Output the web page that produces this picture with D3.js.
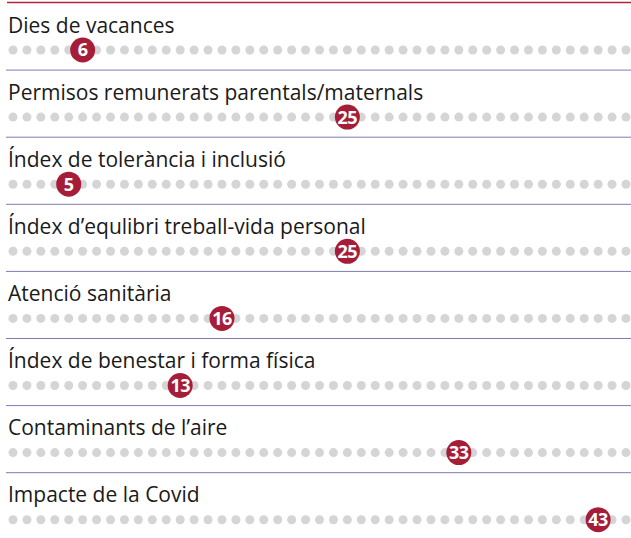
<!DOCTYPE html>
<html>
<head>
<meta charset="utf-8">
<script src="https://cdn.jsdelivr.net/npm/d3@7"></script>
<style>
  body { margin: 0; background: #fff; }
  text { font-family: "Open Sans", "Noto Sans", sans-serif; }
</style>
</head>
<body>
<script>
// labels and rank (position among 45 cities)
var categories = [
  "Dies de vacances",
  "Permisos remunerats parentals/maternals",
  "Índex de tolerància i inclusió",
  "Índex d’equlibri treball-vida personal",
  "Atenció sanitària",
  "Índex de benestar i forma física",
  "Contaminants de l’aire",
  "Impacte de la Covid"
];
var ranks = [6, 25, 5, 25, 16, 13, 33, 43];
var totalPlaces = 45;

var width = 631, height = 538;

var svg = d3.select("body").append("svg")
    .attr("width", width)
    .attr("height", height);

// rows
var y = d3.scaleBand()
    .domain(categories)
    .range([3, 3 + 67.1 * categories.length]);

// position of a rank along the row
var x = d3.scaleLinear()
    .domain([1, totalPlaces])
    .range([13, 626]);

var places = d3.range(1, totalPlaces + 1);

// top red line
svg.append("line")
    .attr("x1", 7).attr("x2", width)
    .attr("y1", 2.5).attr("y2", 2.5)
    .attr("stroke", "#b3233f")
    .attr("stroke-width", 1.5);

var row = svg.selectAll(".row")
    .data(categories)
  .enter().append("g")
    .attr("class", "row")
    .attr("transform", function(d) { return "translate(0," + y(d) + ")"; });

row.append("text")
    .attr("x", 8)
    .attr("y", 29.5)
    .attr("font-size", 21)
    .attr("fill", "#1a1a1a")
    .text(function(d) { return d; });

// separators (not after last)
row.filter(function(d, i) { return i < categories.length - 1; })
  .append("line")
    .attr("x1", 6).attr("x2", width)
    .attr("y1", y.step()).attr("y2", y.step())
    .attr("stroke", "#7d7bb2")
    .attr("stroke-width", 1);

row.selectAll(".dot")
    .data(places)
  .enter().append("circle")
    .attr("class", "dot")
    .attr("cx", function(d) { return x(d); })
    .attr("cy", 47)
    .attr("r", 4.5)
    .attr("fill", "#d5d5d7");

row.append("circle")
    .attr("cx", function(d, i) { return x(ranks[i]); })
    .attr("cy", 47)
    .attr("r", 12.5)
    .attr("fill", "#a61d38");

row.append("text")
    .attr("x", function(d, i) { return x(ranks[i]); })
    .attr("y", 47)
    .attr("dy", "0.36em")
    .attr("text-anchor", "middle")
    .attr("font-size", 18)
    .attr("font-weight", "bold")
    .attr("letter-spacing", -0.5)
    .attr("fill", "#fff")
    .text(function(d, i) { return ranks[i]; });
</script>
</body>
</html>
